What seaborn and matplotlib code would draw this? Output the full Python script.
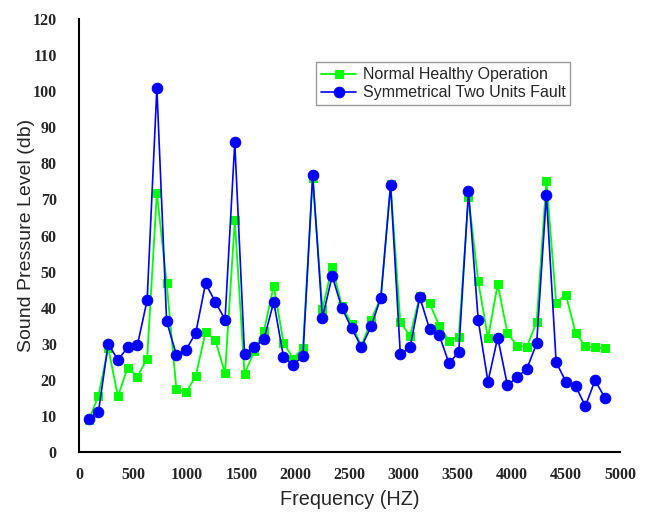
import numpy as np
import pandas as pd
import matplotlib
matplotlib.use("Agg")
import matplotlib.pyplot as plt
import seaborn as sns

freq = [90 * k for k in range(1, 55)]
normal = [8.8, 15.6, 28.9, 15.4, 23.4, 20.9, 25.9, 71.9, 46.8, 17.5,
          16.5, 21.1, 33.3, 31.0, 21.8, 64.2, 21.6, 28.0, 33.6, 46.1,
          30.3, 25.9, 28.8, 75.8, 39.6, 51.4, 40.5, 35.6, 29.3, 36.6,
          42.8, 74.2, 35.9, 32.2, 43.2, 41.2, 35.0, 30.8, 32.0, 70.7,
          47.3, 31.5, 46.5, 33.0, 29.4, 29.2, 36.0, 75.1, 41.4, 43.6,
          33.0, 29.3, 29.0, 28.7]
fault = [9.2, 11.1, 30.0, 25.5, 29.0, 29.6, 42.1, 100.9, 36.3, 26.9,
         28.3, 33.1, 46.7, 41.6, 36.7, 85.8, 27.2, 29.0, 31.3, 41.6,
         26.4, 24.0, 26.7, 76.9, 37.1, 48.8, 39.9, 34.3, 29.1, 34.8,
         42.8, 74.0, 27.1, 29.0, 42.9, 34.1, 32.3, 24.6, 27.7, 72.2,
         36.5, 19.5, 31.7, 18.5, 20.7, 23.1, 30.1, 71.2, 24.9, 19.5,
         18.3, 12.7, 19.9, 15.0]
labels = ["Normal Healthy Operation", "Symmetrical Two Units Fault"]
xticks = [0, 500, 1000, 1500, 2000, 2500, 3000, 3500, 4000, 4500, 5000]
yticks = [0, 10, 20, 30, 40, 50, 60, 70, 80, 90, 100, 110, 120]

sns.set_style("white")
plt.rcParams['font.family'] = ['Liberation Sans', 'DejaVu Sans']

fig = plt.figure(figsize=(6.5, 5.18), dpi=100)
ax = fig.add_axes([0.1215, 0.1274, 0.8323, 0.8359])

df_n = pd.DataFrame({"f": freq, "v": normal})
df_f = pd.DataFrame({"f": freq, "v": fault})
sns.lineplot(data=df_n, x="f", y="v", ax=ax, color="#00FF00", lw=1.3,
             marker="s", markersize=6.2, markeredgecolor="#00FF00",
             label=labels[0], zorder=2)
sns.lineplot(data=df_f, x="f", y="v", ax=ax, color="#0000FF", lw=1.2,
             marker="o", markersize=7.6, markeredgecolor="#0000FF",
             label=labels[1], zorder=3)

ax.set_xlim(0, 5000)
ax.set_ylim(0, 120)
ax.set_xticks(xticks)
ax.set_yticks(yticks)
ax.set_xticklabels([str(t) for t in xticks], family="Liberation Serif",
                   fontweight="bold", fontsize=11.5)
ax.set_yticklabels([str(t) for t in yticks], family="Liberation Serif",
                   fontweight="bold", fontsize=11.5)
ax.tick_params(axis="x", length=0, pad=11)
ax.tick_params(axis="y", length=0, pad=16)
for s in ["top", "right"]:
    ax.spines[s].set_visible(False)
for s in ["left", "bottom"]:
    ax.spines[s].set_color("black")
    ax.spines[s].set_linewidth(1.5)
ax.set_xlabel("Frequency (HZ)", fontsize=14.3)
ax.set_ylabel("Sound Pressure Level (db)", fontsize=14)
ax.xaxis.set_label_coords(0.5, -0.088)
ax.yaxis.set_label_coords(-0.082, 0.5)

leg = ax.legend(loc="upper left", bbox_to_anchor=(0.439, 0.90),
                fontsize=11.5, frameon=True, fancybox=False,
                borderpad=0.3, labelspacing=0.2, handlelength=2.2,
                handletextpad=0.4, borderaxespad=0)
leg.get_frame().set_edgecolor("#808080")
leg.get_frame().set_linewidth(1.0)

fig.savefig("out.png", dpi=100)
